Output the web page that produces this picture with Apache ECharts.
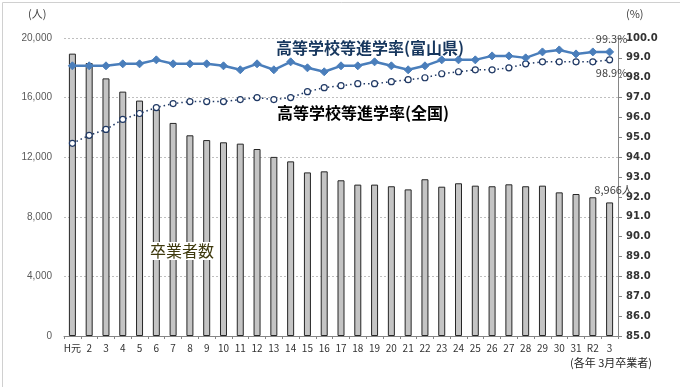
<!DOCTYPE html>
<html><head><meta charset="utf-8">
<script src="https://cdn.jsdelivr.net/npm/echarts@6/dist/echarts.min.js"></script>
<style>html,body{margin:0;padding:0;background:#fff}#c{width:680px;height:387px}</style>
</head><body><div id="c"></div>
<script>
const categories = ['H元','2','3','4','5','6','7','8','9','10','11','12','13','14','15','16','17','18','19','20','21','22','23','24','25','26','27','28','29','30','31','R2','3'];
const graduates = [18950,18320,17290,16400,15800,15210,14300,13470,13150,13000,12910,12550,12020,11720,10980,11050,10450,10160,10160,10050,9840,10520,10020,10250,10090,10050,10180,10050,10090,9640,9530,9310,8966];
const rateToyama = [98.6,98.6,98.6,98.7,98.7,98.9,98.7,98.7,98.7,98.6,98.4,98.7,98.4,98.8,98.5,98.3,98.6,98.6,98.8,98.6,98.4,98.6,98.9,98.9,98.9,99.1,99.1,99.0,99.3,99.4,99.2,99.3,99.3];
const rateNational = [94.7,95.1,95.4,95.9,96.2,96.5,96.7,96.8,96.8,96.8,96.9,97.0,96.9,97.0,97.3,97.5,97.6,97.7,97.7,97.8,97.9,98.0,98.2,98.3,98.4,98.4,98.5,98.7,98.8,98.8,98.8,98.8,98.9];
const leftTicks = [0,4000,8000,12000,16000,20000];

const FONT = '"Noto Sans CJK JP", "DejaVu Sans", sans-serif';
const last = categories.length - 1;

const barData = graduates.map((v,i)=> i===last ? {value:v,label:{show:true,position:'top',distance:7,offset:[4,0],formatter:p=>p.value.toLocaleString('en-US')+'人',color:'#404040',fontSize:11,fontFamily:FONT}} : v);
const toyData = rateToyama.map((v,i)=> i===last ? {value:v,label:{show:true,position:'top',distance:3,offset:[2,0],formatter:p=>p.value.toFixed(1)+'%',color:'#404040',fontSize:11,fontFamily:FONT}} : v);
const natData = rateNational.map((v,i)=> i===last ? {value:v,label:{show:true,position:'bottom',distance:4,offset:[2,0],formatter:p=>p.value.toFixed(1)+'%',color:'#404040',fontSize:11,fontFamily:FONT}} : v);

const chart = echarts.init(document.getElementById('c'));
chart.setOption({
  animation:false,
  grid:{left:64,right:62,top:38,bottom:51,containLabel:false},
  xAxis:{type:'category',data:categories,
    axisLine:{lineStyle:{color:'#868686',width:1}},
    axisTick:{show:true,length:3,lineStyle:{color:'#868686'}},
    axisLabel:{interval:0,color:'#333',fontSize:10,fontFamily:FONT,margin:7}},
  yAxis:[
    {type:'value',min:leftTicks[0],max:leftTicks[leftTicks.length-1],interval:4000,
     axisLine:{show:false},axisTick:{show:false},
     axisLabel:{color:'#595959',fontSize:10,fontFamily:'"Liberation Sans", sans-serif',margin:12,formatter:v=>v.toLocaleString('en-US')},
     splitLine:{show:true,lineStyle:{color:'#bfbfbf',type:[2,2],width:1}}},
    {type:'value',min:85,max:100,interval:1,position:'right',
     axisLine:{show:true,lineStyle:{color:'#868686'}},
     axisTick:{show:true,length:4,inside:false,lineStyle:{color:'#868686'}},
     axisLabel:{color:'#333',fontSize:10,fontWeight:'bold',fontFamily:'"DejaVu Sans", sans-serif',margin:8,formatter:v=>v.toFixed(1)},
     splitLine:{show:false}}
  ],
  series:[
    {type:'bar',name:'卒業者数',data:barData,barWidth:7,
     itemStyle:{color:'#c4c4c4',borderColor:'#262626',borderWidth:1}},
    {type:'line',name:'全国',yAxisIndex:1,data:natData,
     lineStyle:{color:'#1f3864',width:1.5,type:[1.5,3]},
     symbol:'circle',symbolSize:6,itemStyle:{color:'#fff',borderColor:'#1f3864',borderWidth:1.2},z:3},
    {type:'line',name:'富山県',yAxisIndex:1,data:toyData,
     lineStyle:{color:'#4a7ebb',width:2.5},
     symbol:'diamond',symbolSize:8,itemStyle:{color:'#4a7ebb',borderColor:'#4a7ebb'},z:4}
  ],
  graphic:[
    {type:'rect',left:0,top:0,shape:{width:679,height:386},style:{fill:'none',stroke:'#d0d0d0',lineWidth:1},silent:true,z:-10},
    {type:'text',left:28,top:8,z:100,style:{text:'(人)',fill:'#404040',font:'11px '+FONT}},
    {type:'text',left:626,top:8,z:100,style:{text:'(%)',fill:'#404040',font:'11px '+FONT}},
    {type:'text',left:570,top:357,z:100,style:{text:'(各年 3月卒業者)',fill:'#262626',font:'11px '+FONT}},
    {type:'text',left:276,top:40,z:100,style:{text:'高等学校等進学率(富山県)',fill:'#17375e',font:'bold 16px '+FONT}},
    {type:'text',left:277,top:105,z:100,style:{text:'高等学校等進学率(全国)',fill:'#000',font:'bold 16px '+FONT}},
    {type:'text',left:148,top:242,z:100,style:{text:'卒業者数',fill:'#3f3a0e',font:'16px '+FONT,backgroundColor:'#fff',padding:[1,2]}}
  ]
});
</script></body></html>
